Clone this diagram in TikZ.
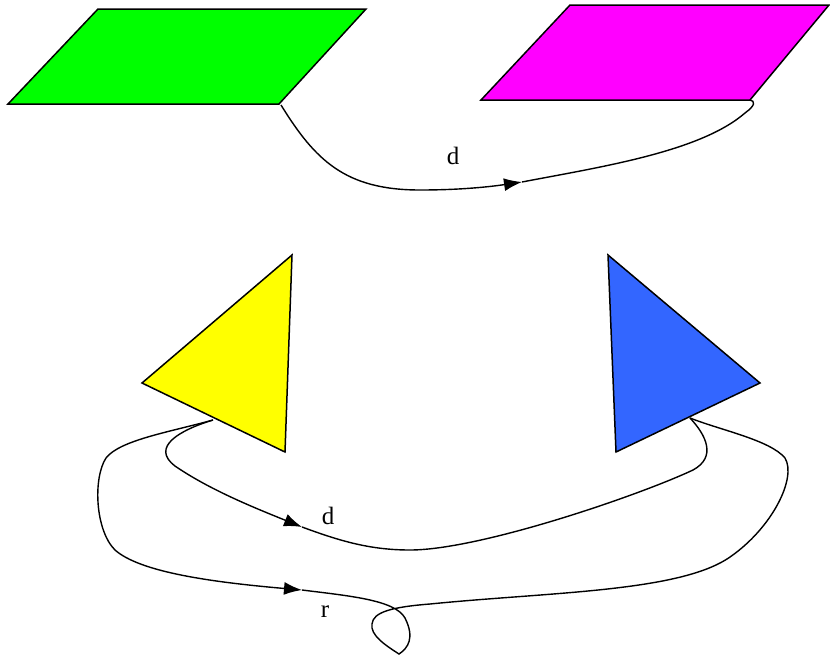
\documentclass[tikz,border=0pt]{standalone}
\usepackage{fontspec}
\setmainfont{Liberation Serif}
\usetikzlibrary{arrows.meta}
\definecolor{cgreen}{RGB}{0,255,0}
\definecolor{cmag}{RGB}{255,0,255}
\definecolor{cyel}{RGB}{255,255,0}
\definecolor{cblue}{RGB}{51,102,255}
\begin{document}
\begin{tikzpicture}[x=1pt,y=-1pt,
  shapeline/.style={draw=black,line width=1.5pt,line join=miter},
  conn/.style={draw=black,line width=1.4pt},
  tipped/.style={conn,-{Latex[length=18pt,width=13pt]}},
  lbl/.style={font=\fontsize{25}{30}\selectfont,inner sep=0pt}]
\useasboundingbox (0,0) rectangle (830,654);
% corners
\coordinate (g1) at (98,9); \coordinate (g2) at (366,9); \coordinate (g3) at (279,104); \coordinate (g4) at (8,104);
\coordinate (m1) at (570,5); \coordinate (m2) at (829,5); \coordinate (m3) at (750,100); \coordinate (m4) at (481,100);
\coordinate (y1) at (292,255); \coordinate (y2) at (142,383); \coordinate (y3) at (285,452);
\coordinate (b1) at (608,255); \coordinate (b2) at (760,383); \coordinate (b3) at (616,452);
\fill[cgreen] (g1)--(g2)--(g3)--(g4)--cycle; \draw[shapeline] (g1)--(g2)--(g3)--(g4)--cycle;
\fill[cmag] (m1)--(m2)--(m3)--(m4)--cycle; \draw[shapeline] (m1)--(m2)--(m3)--(m4)--cycle;
\fill[cyel] (y1)--(y2)--(y3)--cycle; \draw[shapeline] (y1)--(y2)--(y3)--cycle;
\fill[cblue] (b1)--(b2)--(b3)--cycle; \draw[shapeline] (b1)--(b2)--(b3)--cycle;
% connector endpoints
\coordinate (gs) at (281,105);
\coordinate (ys) at (213,420);
\coordinate (be) at (690,418);
\coordinate (t1) at (522,182);
\coordinate (t2) at (302,527);
\coordinate (t3) at (302,590);
% edge 1
\path[tipped] (gs) .. controls (315,160) and (345,190) .. (420,190) .. controls (465,190) and (495,186) .. (t1);
\path[conn] (t1) .. controls (600,167) and (700,152) .. (745,113) .. controls (756,105) and (755,101) .. (m3);
\node[lbl] (l1) at (453,156) {d};
% edge d lower
\path[tipped] (ys) .. controls (180,430) and (150,447) .. (175,466) .. controls (210,490) and (255,508) .. (t2);
\path[conn] (t2) .. controls (340,541) and (370,550) .. (410,550) .. controls (480,550) and (640,495) .. (693,470) .. controls (717,457) and (706,435) .. (be);
\node[lbl] (l2) at (328,516) {d};
% edge r
\path[tipped] (ys) .. controls (170,432) and (120,440) .. (106,458) .. controls (93,478) and (95,530) .. (115,550) .. controls (140,572) and (210,582) .. (t3);
\path[conn] (t3) .. controls (350,596) and (395,600) .. (405,618) .. controls (415,638) and (408,648) .. (399,654) .. controls (385,645) and (370,635) .. (372,624) .. controls (373,612) and (392,607) .. (430,604) .. controls (550,592) and (680,592) .. (730,557) .. controls (772,528) and (797,478) .. (785,458) .. controls (770,440) and (720,430) .. (be);
\node[lbl] (l3) at (325,612) {r};
\end{tikzpicture}
\end{document}
